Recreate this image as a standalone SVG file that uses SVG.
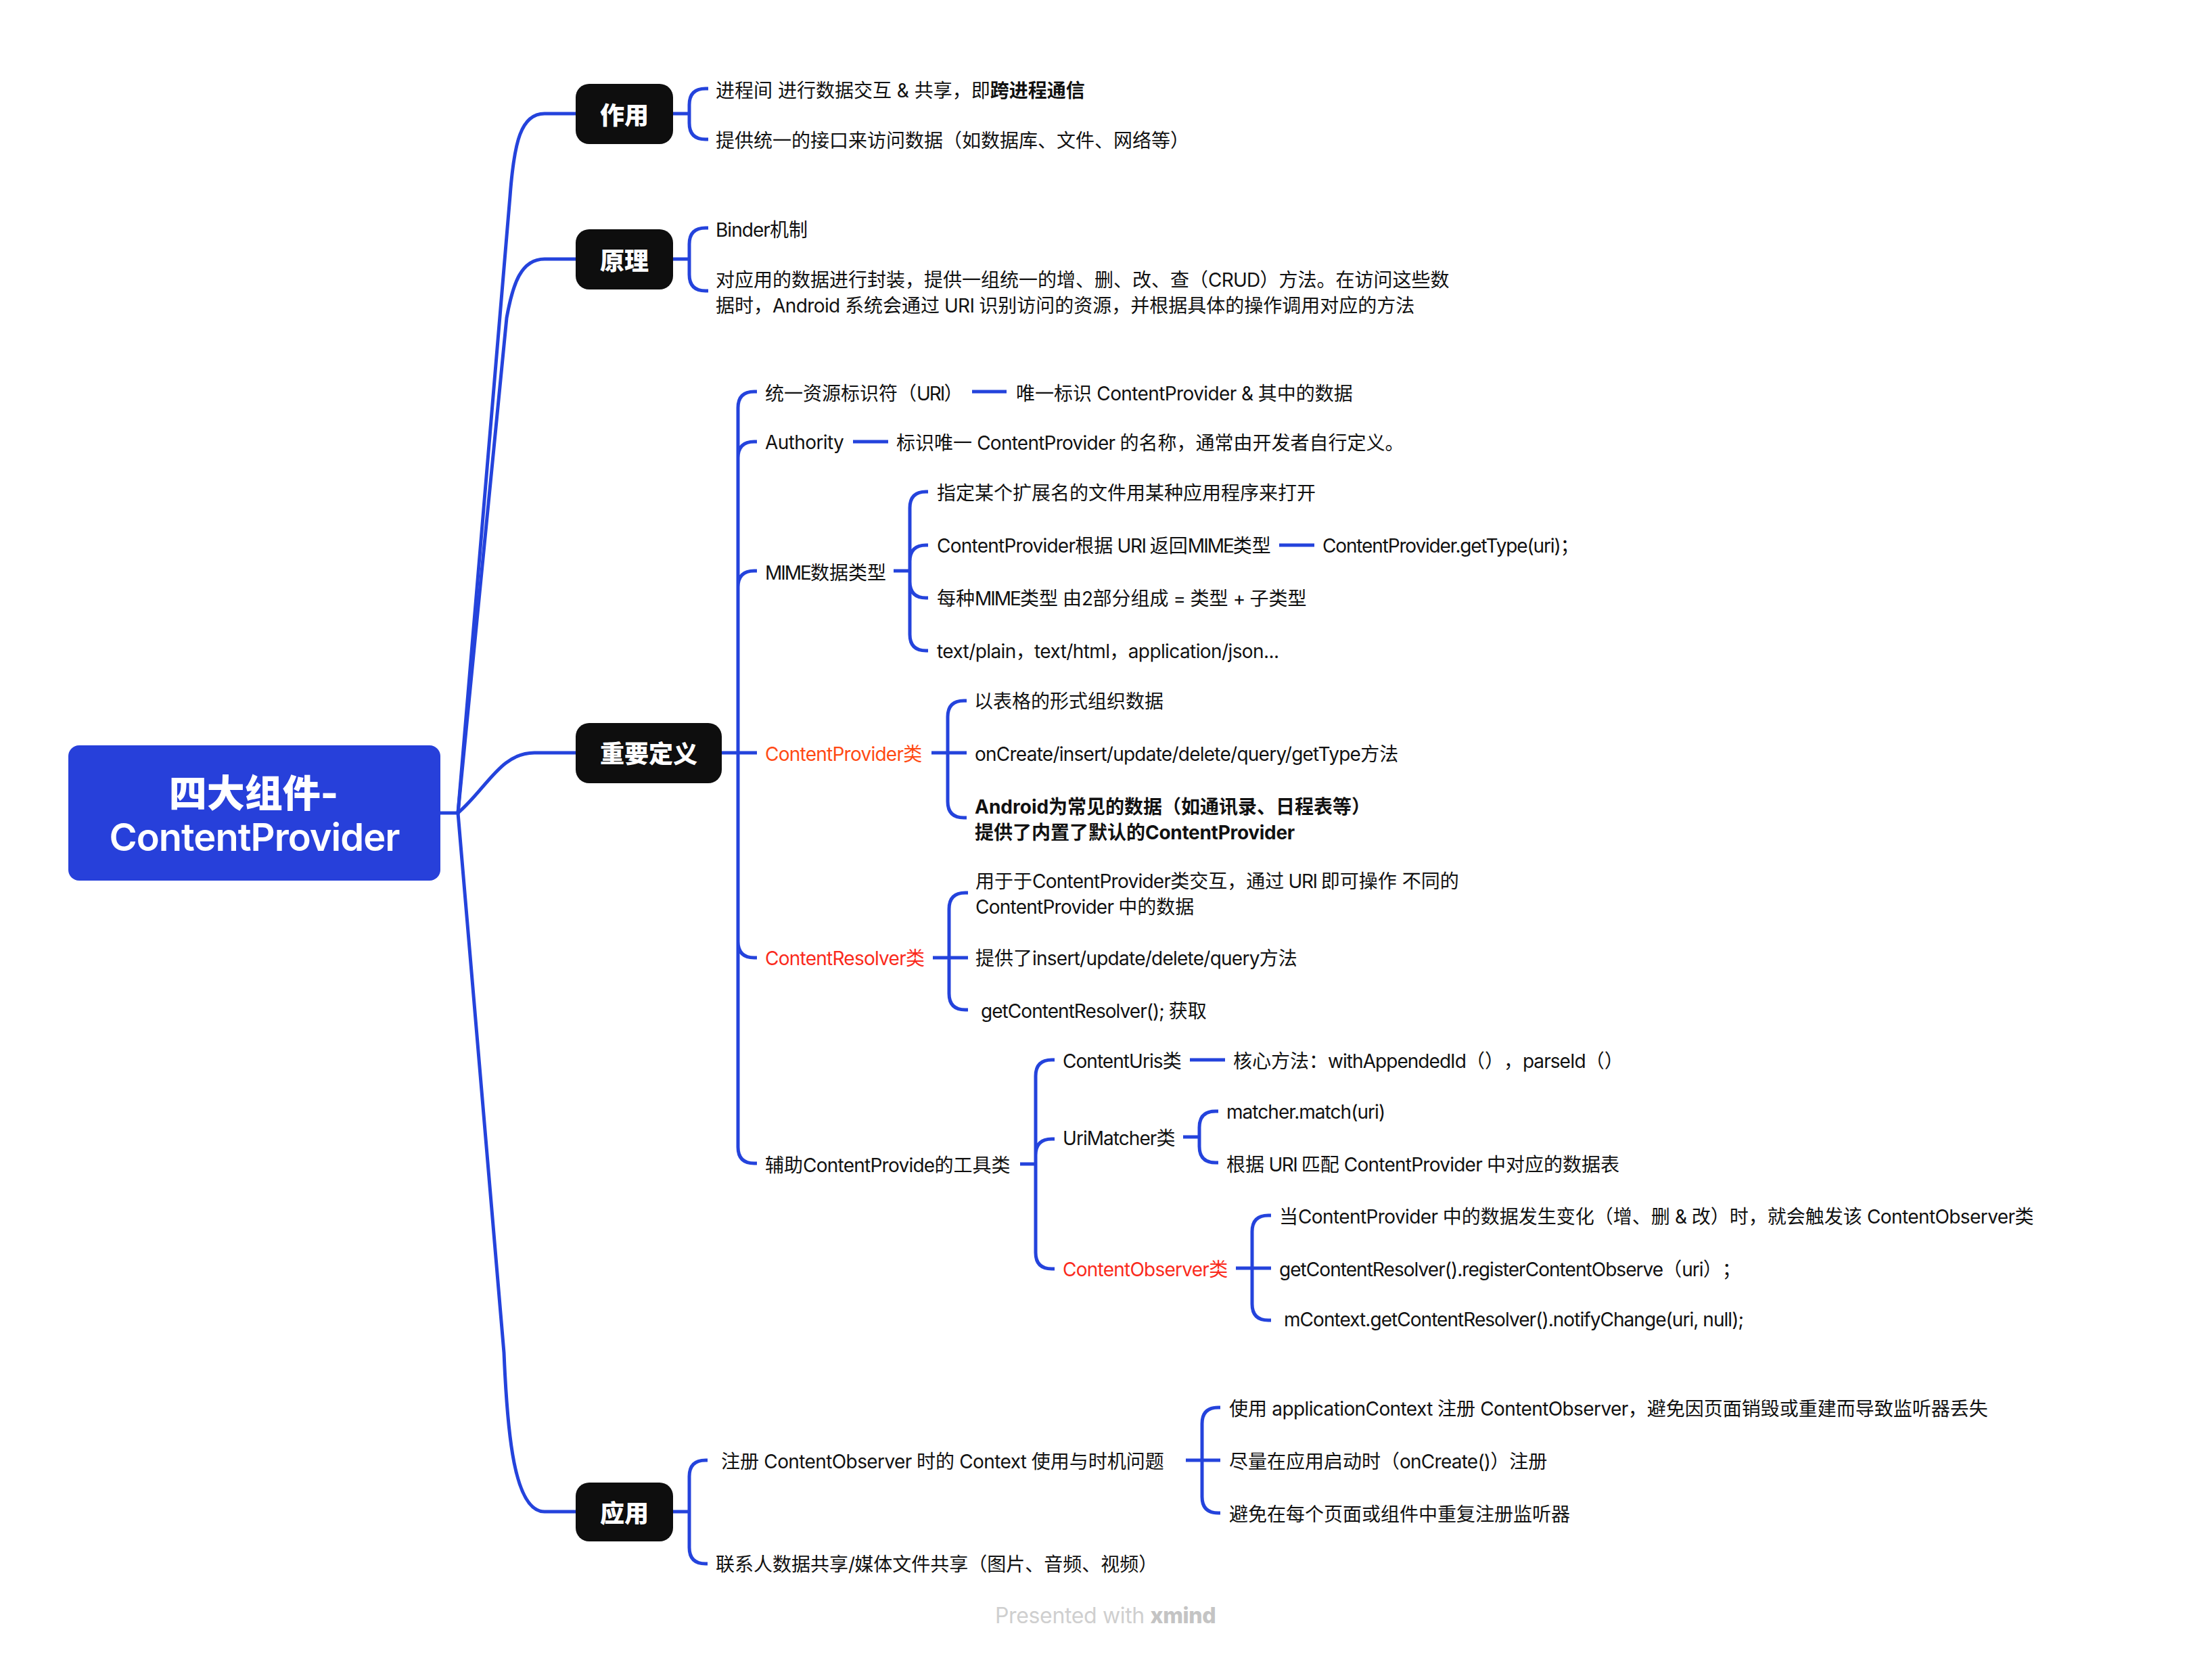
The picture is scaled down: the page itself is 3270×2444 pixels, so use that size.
<svg xmlns="http://www.w3.org/2000/svg" width="3270" height="2444" viewBox="0 0 3270 2444">
<style>
text{font-family:"Inter","Noto Sans CJK SC",sans-serif;font-size:28px;fill:#111;text-spacing-trim:space-all}
.l{letter-spacing:-.75px}
.s{letter-spacing:-.6px}
.u{letter-spacing:-1.5px}
.m{letter-spacing:-2px}
.p{letter-spacing:-.95px}
.q{letter-spacing:-1.15px}
.b{font-weight:700}
.bl{letter-spacing:-.3px}
.o{fill:#ff4a14}.r{fill:#fa2a1c}
.t{font-size:36px;font-weight:900;fill:#fff;text-anchor:middle}
.root{font-size:56px;font-weight:800;fill:#fff;text-anchor:middle}
.rl{font-weight:600;letter-spacing:-1px}
.box{fill:#0e0e0e}
.wm{font-size:32px;fill:#cfcfcf;letter-spacing:-.35px}
.wb{font-weight:800;fill:#c4c4c4}
#connectors path{fill:none;stroke:#2443dc;stroke-width:5;stroke-linecap:butt}
</style>
<rect width="3270" height="2444" fill="#fff"/>
<g id="connectors">
<path d="M651 1202H677L754 290C760 210 770 168 805 168H851"/>
<path d="M677 1202L749 470C758 420 770 383 805 383H851"/>
<path d="M677 1202C720 1165 740 1113 790 1113H851"/>
<path d="M677 1202L745 2000C750 2120 760 2235 805 2235H851"/>
<path d="M995 168H1019M1047 131H1043Q1019 131 1019 155V182Q1019 206 1043 206H1047"/>
<path d="M995 383H1019M1047 337H1043Q1019 337 1019 361V406Q1019 430 1043 430H1047"/>
<path d="M1067 1113H1119M1119 579H1115Q1091 579 1091 603V1696Q1091 1720 1115 1720H1119M1091 677Q1091 653 1115 653H1119M1091 868Q1091 844 1115 844H1119M1091 1392Q1091 1416 1115 1416H1119"/>
<path d="M1437 579H1488M1261 653H1313"/>
<path d="M1321 844H1345M1372 727H1369Q1345 727 1345 751V938Q1345 962 1369 962H1372M1345 830Q1345 806 1369 806H1372M1345 860Q1345 884 1369 884H1372"/>
<path d="M1891 806H1943"/>
<path d="M1377 1113H1429M1429 1036H1425Q1401 1036 1401 1060V1185Q1401 1209 1425 1209H1429"/>
<path d="M1379 1416H1431M1431 1320H1427Q1403 1320 1403 1344V1469Q1403 1493 1427 1493H1431"/>
<path d="M1508 1721H1531M1559 1567H1555Q1531 1567 1531 1591V1852Q1531 1876 1555 1876H1559M1531 1708Q1531 1684 1555 1684H1559"/>
<path d="M1759 1567H1811"/>
<path d="M1749 1681H1773M1801 1643H1797Q1773 1643 1773 1667V1695Q1773 1719 1797 1719H1801"/>
<path d="M1827 1875H1879M1879 1797H1875Q1851 1797 1851 1821V1928Q1851 1952 1875 1952H1879"/>
<path d="M995 2235H1019M1046 2159H1043Q1019 2159 1019 2183V2288Q1019 2312 1043 2312H1046"/>
<path d="M1753 2159H1804M1804 2081H1801Q1777 2081 1777 2105V2213Q1777 2237 1801 2237H1804"/>
</g>
<g id="root"><rect x="101" y="1102" width="550" height="200" rx="16" fill="#2740da"/><text class="root" x="375" y="1193">四大组件-</text><text class="root rl" x="376" y="1258">ContentProvider</text></g>
<g id="n-zuoyong"><rect class="box" x="851" y="124" width="144" height="89" rx="20"/><text class="t" x="923" y="184">作用</text></g>
<g id="n-yuanli"><rect class="box" x="851" y="339" width="144" height="89" rx="20"/><text class="t" x="923" y="399">原理</text></g>
<g id="n-dingyi"><rect class="box" x="851" y="1069" width="216" height="89" rx="20"/><text class="t" x="959" y="1128">重要定义</text></g>
<g id="n-yingyong"><rect class="box" x="851" y="2192" width="144" height="87" rx="20"/><text class="t" x="923" y="2251">应用</text></g>
<g id="t1"><text x="1058" y="144">进程间 进行数据交互 &amp; 共享，即<tspan class="b">跨进程通信</tspan></text></g>
<g id="t2"><text x="1058" y="218">提供统一的接口来访问数据（如数据库、文件、网络等）</text></g>
<g id="t3"><text x="1058" y="350"><tspan class="p">Binder</tspan>机制</text></g>
<g id="t4"><text x="1058" y="424">对应用的数据进行封装，提供一组统一的增、删、改、查（<tspan class="l">CRUD</tspan>）方法。在访问这些数</text><text x="1058" y="462">据时，<tspan class="s">Android </tspan>系统会通过<tspan class="l"> URI </tspan>识别访问的资源，并根据具体的操作调用对应的方法</text></g>
<g id="t5"><text x="1131" y="592">统一资源标识符（<tspan class="m">URI</tspan>）</text></g>
<g id="t6"><text x="1502" y="592">唯一标识<tspan class="s"> ContentProvider &amp; </tspan>其中的数据</text></g>
<g id="t7"><text class="s" x="1131" y="664">Authority</text></g>
<g id="t8"><text x="1325" y="665">标识唯一<tspan class="l"> ContentProvider </tspan>的名称，通常由开发者自行定义。</text></g>
<g id="t9"><text x="1131" y="857"><tspan class="m">MIME</tspan>数据类型</text></g>
<g id="t10"><text x="1385" y="739">指定某个扩展名的文件用某种应用程序来打开</text></g>
<g id="t11"><text x="1385" y="817"><tspan class="l">ContentProvider</tspan>根据<tspan class="u"> URI </tspan>返回<tspan class="m">MIME</tspan>类型</text></g>
<g id="t12"><text class="q" x="1955" y="817">ContentProvider.getType(uri)；</text></g>
<g id="t13"><text x="1385" y="895">每种<tspan class="m">MIME</tspan>类型<tspan class="l"> </tspan>由<tspan class="l">2</tspan>部分组成<tspan class="l"> = </tspan>类型<tspan class="l"> + </tspan>子类型</text></g>
<g id="t14"><text class="s" x="1385" y="973">text/plain，text/html，application/json...</text></g>
<g id="t15"><text class="o" x="1131" y="1125"><tspan class="l">ContentProvider</tspan>类</text></g>
<g id="t16"><text x="1440" y="1047">以表格的形式组织数据</text></g>
<g id="t17"><text x="1441" y="1125"><tspan class="l">onCreate/insert/update/delete/query/getType</tspan>方法</text></g>
<g id="t18"><text class="b" x="1441" y="1203">Android为常见的数据（如通讯录、日程表等）</text><text class="b" x="1441" y="1241">提供了内置了默认的<tspan class="bl">ContentProvider</tspan></text></g>
<g id="t19"><text class="r" x="1131" y="1427"><tspan class="l">ContentResolver</tspan>类</text></g>
<g id="t20"><text x="1442" y="1313">用于于<tspan class="l">ContentProvider</tspan>类交互，通过<tspan class="u"> URI </tspan>即可操作 不同的</text><text x="1442" y="1351"><tspan class="l">ContentProvider </tspan>中的数据</text></g>
<g id="t21"><text x="1442" y="1427">提供了<tspan class="l">insert/update/delete/query</tspan>方法</text></g>
<g id="t22"><text x="1450" y="1505"><tspan class="p">getContentResolver(); </tspan>获取</text></g>
<g id="t23"><text x="1131" y="1733">辅助<tspan class="l">ContentProvide</tspan>的工具类</text></g>
<g id="t24"><text x="1571" y="1579"><tspan class="p">ContentUris</tspan>类</text></g>
<g id="t25"><text x="1823" y="1579">核心方法：<tspan class="p">withAppendedId</tspan>（），<tspan class="p">parseId</tspan>（）</text></g>
<g id="t26"><text x="1571" y="1693"><tspan class="p">UriMatcher</tspan>类</text></g>
<g id="t27"><text class="p" x="1813" y="1654">matcher.match(uri)</text></g>
<g id="t28"><text x="1813" y="1732">根据<tspan class="u"> URI </tspan>匹配<tspan class="l"> ContentProvider </tspan>中对应的数据表</text></g>
<g id="t29"><text class="r" x="1571" y="1887"><tspan class="l">ContentObserver</tspan>类</text></g>
<g id="t30"><text x="1891" y="1809">当<tspan class="s">ContentProvider </tspan>中的数据发生变化（增、删<tspan class="s"> &amp; </tspan>改）时，就会触发该<tspan class="s"> ContentObserver</tspan>类</text></g>
<g id="t31"><text x="1891" y="1887"><tspan class="p">getContentResolver().registerContentObserve</tspan>（<tspan class="p">uri</tspan>）；</text></g>
<g id="t32"><text class="p" x="1898" y="1961">mContext.getContentResolver().notifyChange(uri, null);</text></g>
<g id="t33"><text x="1066" y="2171">注册<tspan class="s"> ContentObserver </tspan>时的<tspan class="s"> Context </tspan>使用与时机问题</text></g>
<g id="t34"><text x="1817" y="2093">使用<tspan class="s"> applicationContext </tspan>注册<tspan class="s"> ContentObserver</tspan>，避免因页面销毁或重建而导致监听器丢失</text></g>
<g id="t35"><text x="1817" y="2171">尽量在应用启动时（<tspan class="l">onCreate()</tspan>）注册</text></g>
<g id="t36"><text x="1817" y="2249">避免在每个页面或组件中重复注册监听器</text></g>
<g id="t37"><text x="1058" y="2323">联系人数据共享<tspan class="l">/</tspan>媒体文件共享（图片、音频、视频）</text></g>
<g id="watermark"><text class="wm" x="1471" y="2400">Presented with <tspan class="wb">xmind</tspan></text></g>
</svg>
